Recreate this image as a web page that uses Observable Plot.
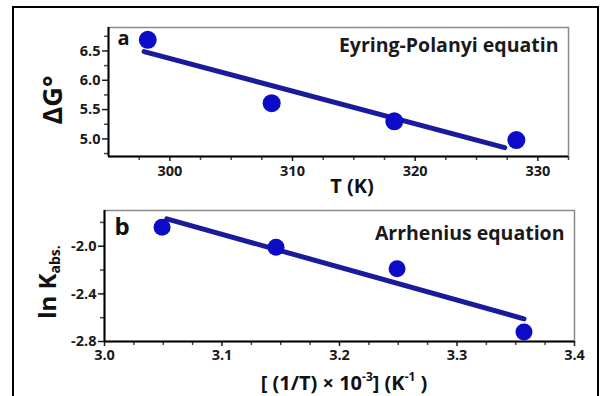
<!DOCTYPE html>
<html>
<head>
<meta charset="utf-8">
<script src="https://cdn.jsdelivr.net/npm/d3@7"></script>
<script src="https://cdn.jsdelivr.net/npm/@observablehq/plot@0.6"></script>
<style>
  html, body { margin: 0; padding: 0; background: #fff; }
  #wrap { position: relative; width: 603px; height: 396px; overflow: hidden; font-family: "Open Sans", sans-serif; }
  #border { position: absolute; left: 12px; top: 6px; width: 587px; height: 400px; border: 2px solid #000; border-bottom: none; box-sizing: border-box; }
  .pan { position: absolute; left: 0; }
  .pan svg text { font-weight: 700; }
  .lbl { position: absolute; font-weight: 700; color: #111; white-space: nowrap; line-height: 1; }
  .rot { transform: translate(-50%, -50%) rotate(-90deg); }
  .ctr { transform: translate(-50%, -50%); }
</style>
</head>
<body>
<div id="wrap">
  <div id="border"></div>
  <div id="pa" class="pan" style="top:0px"></div>
  <div id="pb" class="pan" style="top:200px"></div>
  <div class="lbl rot" style="left:51px; top:100px; font-size:27px;">ΔG°</div>
  <div class="lbl ctr" style="left:352px; top:186px; font-size:20px;">T (K)</div>
  <div class="lbl rot" style="left:48px; top:282px; font-size:24px;">ln K<span style="font-size:14px; vertical-align:-4px;">abs.</span></div>
  <div class="lbl ctr" style="left:344px; top:382px; font-size:20px;">[ (1/T) × 10<sup style="font-size:12px; vertical-align:9px;">-3</sup>] (K<sup style="font-size:12px; vertical-align:9px;">-1</sup> )</div>
</div>
<script>
// Panel a: Eyring-Polanyi
const tempK = [298.2, 308.3, 318.3, 328.25];
const deltaG = [6.69, 5.61, 5.30, 4.98];
const fitTempK = [297.9, 327.3];
const fitDeltaG = [6.49, 4.85];
const ticksTempK = [300, 310, 320, 330];
const ticksDeltaG = [5.0, 5.5, 6.0, 6.5];

// Panel b: Arrhenius
const invT = [3.049, 3.146, 3.249, 3.357];
const lnK = [-1.84, -2.008, -2.19, -2.72];
const fitInvT = [3.053, 3.357];
const fitLnK = [-1.77, -2.61];
const ticksInvT = [3.0, 3.1, 3.2, 3.3, 3.4];
const ticksLnK = [-2.0, -2.4, -2.8];

const pointColor = "#0c0cc8";
const lineColor = "#1a1a9c";
const font = "'Open Sans', sans-serif";
const tickFont = 14.5;

const ptsA = tempK.map((t, i) => ({x: t, y: deltaG[i]}));
const fitA = fitTempK.map((t, i) => ({x: t, y: fitDeltaG[i]}));
const ptsB = invT.map((t, i) => ({x: t, y: lnK[i]}));
const fitB = fitInvT.map((t, i) => ({x: t, y: fitLnK[i]}));

const xDomA = [295, 332.5], yDomA = [4.7, 6.9];
const xDomB = [3.0, 3.4], yDomB = [-2.8, -1.7];

const minorXA = d3.range(297.5, 332.6, 2.5).filter(v => !ticksTempK.includes(v));
const minorYA = d3.range(4.75, 6.9, 0.5);
const minorXB = d3.range(0, 17).map(i => 3.0 + i * 0.025).filter(v => Math.abs((v * 10) - Math.round(v * 10)) > 1e-6);
const minorYB = [-1.8, -2.2, -2.6];

const fmt = d => d3.format(".1f")(d).replace("−", "-");

const plotA = Plot.plot({
  width: 603, height: 200,
  marginTop: 27, marginBottom: 44, marginLeft: 108, marginRight: 35,
  style: {fontFamily: font, color: "#1a1a1a", background: "transparent"},
  x: {domain: xDomA},
  y: {domain: yDomA},
  marks: [
    Plot.frame({stroke: "#8a8a8a", strokeWidth: 1.5}),
    Plot.axisX(minorXA, {tickSize: 4, text: null, label: null, strokeWidth: 1.5, stroke: "#444"}),
    Plot.axisX(ticksTempK, {tickSize: 5, text: null, label: null, strokeWidth: 1.5}),
    Plot.axisY(minorYA, {tickSize: 4, text: null, label: null, strokeWidth: 1.5, stroke: "#444"}),
    Plot.axisY(ticksDeltaG, {tickSize: 6, text: null, label: null, strokeWidth: 1.5}),
    Plot.text(ticksTempK, {x: d => d, frameAnchor: "bottom", dy: 15, lineAnchor: "middle", text: d => String(d), fontSize: tickFont, fill: "#1a1a1a"}),
    Plot.text(ticksDeltaG, {y: d => d, frameAnchor: "left", dx: -8, textAnchor: "end", lineAnchor: "middle", text: fmt, fontSize: tickFont, fill: "#1a1a1a"}),
    Plot.ruleX([xDomA[0]], {stroke: "#000", strokeWidth: 2}),
    Plot.ruleY([yDomA[0]], {stroke: "#000", strokeWidth: 2}),
    Plot.line(fitA, {x: "x", y: "y", stroke: lineColor, strokeWidth: 5}),
    Plot.dot(ptsA, {x: "x", y: "y", r: 9, fill: pointColor, stroke: "none"}),
    Plot.text(["a"], {frameAnchor: "top-left", dx: 9, dy: 11, textAnchor: "start", lineAnchor: "middle", fontSize: 20, fill: "#111"}),
    Plot.text(["Eyring-Polanyi equatin"], {frameAnchor: "top-right", dx: -10, dy: 18, textAnchor: "end", lineAnchor: "middle", fontSize: 19.5, fill: "#1a1a1a"})
  ]
});
document.getElementById("pa").appendChild(plotA);

const plotB = Plot.plot({
  width: 603, height: 196,
  marginTop: 10, marginBottom: 55, marginLeft: 104, marginRight: 29,
  style: {fontFamily: font, color: "#1a1a1a", background: "transparent"},
  x: {domain: xDomB},
  y: {domain: yDomB},
  marks: [
    Plot.frame({stroke: "#8a8a8a", strokeWidth: 1.5}),
    Plot.axisX(minorXB, {tickSize: 4, text: null, label: null, strokeWidth: 1.5, stroke: "#444"}),
    Plot.axisX(ticksInvT, {tickSize: 5, text: null, label: null, strokeWidth: 1.5}),
    Plot.axisY(minorYB, {tickSize: 4, text: null, label: null, strokeWidth: 1.5, stroke: "#444"}),
    Plot.axisY(ticksLnK, {tickSize: 6, text: null, label: null, strokeWidth: 1.5}),
    Plot.text(ticksInvT, {x: d => d, frameAnchor: "bottom", dy: 14, lineAnchor: "middle", text: fmt, fontSize: tickFont, fill: "#1a1a1a"}),
    Plot.text(ticksLnK, {y: d => d, frameAnchor: "left", dx: -8, textAnchor: "end", lineAnchor: "middle", text: fmt, fontSize: tickFont, fill: "#1a1a1a"}),
    Plot.ruleX([xDomB[0]], {stroke: "#000", strokeWidth: 2}),
    Plot.ruleY([yDomB[0]], {stroke: "#000", strokeWidth: 2}),
    Plot.line(fitB, {x: "x", y: "y", stroke: lineColor, strokeWidth: 5}),
    Plot.dot(ptsB, {x: "x", y: "y", r: 8.5, fill: pointColor, stroke: "none"}),
    Plot.text(["b"], {frameAnchor: "top-left", dx: 10, dy: 17, textAnchor: "start", lineAnchor: "middle", fontSize: 24, fill: "#111"}),
    Plot.text(["Arrhenius equation"], {frameAnchor: "top-right", dx: -10, dy: 23, textAnchor: "end", lineAnchor: "middle", fontSize: 19.5, fill: "#1a1a1a"})
  ]
});
document.getElementById("pb").appendChild(plotB);
</script>
</body>
</html>
